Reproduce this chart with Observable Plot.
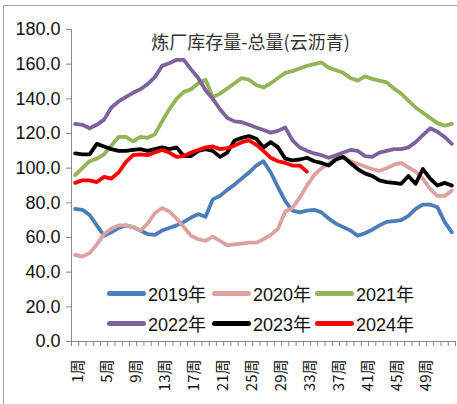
<!DOCTYPE html>
<html>
<head>
<meta charset="utf-8">
<script src="https://cdn.jsdelivr.net/npm/d3@7"></script>
<script src="https://cdn.jsdelivr.net/npm/@observablehq/plot@0.6"></script>
<style>
  html, body { margin: 0; padding: 0; background: #fff; }
  #wrap { position: relative; width: 457px; height: 404px; overflow: hidden; background: #fff; }
  #border { position: absolute; left: 3px; top: 5px; width: 460px; height: 420px; border: 1px solid #a0a0a0; box-sizing: border-box; pointer-events: none; }
  .leg { position: absolute; display: flex; align-items: center; font-family: "Liberation Sans", "Noto Sans CJK SC", sans-serif; font-size: 18px; color: #111; white-space: nowrap; }
  .sw { width: 39px; height: 5px; border-radius: 3px; margin-right: 2px; }
</style>
</head>
<body>
<div id="wrap"><div id="border"></div></div>
<script>
const title = "炼厂库存量-总量(云沥青)";
const weeks = [1,2,3,4,5,6,7,8,9,10,11,12,13,14,15,16,17,18,19,20,21,22,23,24,25,26,27,28,29,30,31,32,33,34,35,36,37,38,39,40,41,42,43,44,45,46,47,48,49,50,51,52,53];
const xTickWeeks = [1,5,9,13,17,21,25,29,33,37,41,45,49];
const xTickLabels = ["1周","5周","9周","13周","17周","21周","25周","29周","33周","37周","41周","45周","49周"];
const yTicks = [0,20,40,60,80,100,120,140,160,180];
const seriesNames = ["2019年","2020年","2021年","2022年","2023年","2024年"];
const seriesColors = ["#4a7ebb","#dca2a0","#93b557","#7e62a0","#000000","#ff0000"];

const s2019 = [76.5,76,73,67,61,63,65.5,67,66,64,62,61.5,64,65.5,67,69,71.5,73.5,72,82,84,87.5,90.5,94,97.5,101.5,104,97.5,89,81,75.5,74.5,75.5,76,74.5,71,68,66,64,61,62.5,64.5,67,69,69.5,70,72.5,76.5,79,79,77.5,69,63];
const s2020 = [50,49,51,56,62,65,67,67,66,64,68,74,77,75,71,66,61,59,58,60.5,58,55.5,56,56.5,57,57,59,61.5,65,75,77,83,90,96,100,102.5,106,106.5,104,102.5,101,99.5,98.5,100,102,103,100.5,98,94,88,84,84,87];
const s2021 = [96,100,104,105.5,108,113,118,118,115.5,118,117.5,119.5,127,134,140,144,145.5,149,151,141,143,146,149,152,151,148,146.5,149,152,155,156,157.5,159,160,161,158,156.5,155,152,150.5,153,151.5,150.5,149.5,146,143,139,135,132,129,126,124.5,125.5];
const s2022 = [125.5,125,123,125,128,135,138.5,141,143.5,145.5,148.5,152.5,159,160.5,162.5,162.5,157,152,145,140,134,129,127,126.5,125,123.5,122,120.5,121.5,123.5,116,112,110,108.5,107.5,106,107.5,109,110.5,110,107,106.5,109,110,111,111,112,115,119,123,121,118,114];
const s2023 = [108.5,108,108,114,112.5,111,110,110,110.5,111,110,111,112,111,112,107,107,110,111,110,106.5,109,116,117.5,118.5,117,112,115,112,105.5,104.5,105,106,104,103,101.5,105,106.5,103,99.5,97,95.5,93,92,91.5,91,95.5,91,99.5,94,90,91.5,90];
const s2024 = [91.5,93,93,92,95,94,97.5,103.5,107.5,108,107.5,109,110.5,109,106.5,107,109,110.5,112,112.5,111,111.5,113,115,116,113.5,110,106,104,103,101.5,101.5,98];

const allSeries = [s2019, s2020, s2021, s2022, s2023, s2024];
const rows = allSeries.flatMap((vals, i) =>
  vals.map((v, j) => ({week: weeks[j], value: v, series: seriesNames[i]})));
const boundaries = weeks.map(w => w - 0.5).concat([weeks[weeks.length - 1] + 0.5]);

const numFont = '"Liberation Sans", sans-serif';

const chart = Plot.plot({
  width: 457,
  height: 404,
  marginLeft: 71,
  marginRight: 2,
  marginTop: 29,
  marginBottom: 63,
  style: {background: "transparent", fontFamily: numFont, color: "#111"},
  x: {type: "linear", domain: [0.5, 53.5]},
  y: {domain: [0, 180]},
  color: {domain: seriesNames, range: seriesColors},
  marks: [
    Plot.axisY({ticks: yTicks, tickFormat: d => d.toFixed(1), tickSize: 5, tickPadding: 6, fontSize: 18, stroke: "#888", fill: "#111", label: null}),
    Plot.axisX({ticks: boundaries, tickSize: 5, tickFormat: () => "", stroke: "#888", label: null}),
    Plot.axisX({ticks: xTickWeeks, tickSize: 0, tickPadding: 18, tickRotate: -90, dx: 3,
      tickFormat: d => xTickLabels[xTickWeeks.indexOf(d)], fontSize: 15, fill: "#111", label: null,
      fontFamily: '"Noto Sans CJK SC", sans-serif'}),
    Plot.ruleY([0], {stroke: "#888"}),
    Plot.ruleX([0.5], {stroke: "#888"}),
    Plot.lineY(rows, {x: "week", y: "value", stroke: "series", z: "series", strokeWidth: 3.8, strokeLinejoin: "round", strokeLinecap: "round"}),
    Plot.text([title], {frameAnchor: "top", lineAnchor: "middle", dx: -13, dy: 14, fontSize: 18,
      fontFamily: '"Noto Sans CJK SC", sans-serif', fill: "#333"})
  ]
});

const wrap = document.getElementById("wrap");
chart.style.position = "absolute";
chart.style.left = "0px";
chart.style.top = "0px";
wrap.insertBefore(chart, wrap.firstChild);

const legX = [107, 212, 315];
const legY = [293, 323];
seriesNames.forEach((name, i) => {
  const item = document.createElement("div");
  item.className = "leg";
  item.style.left = legX[i % 3] + "px";
  item.style.top = (legY[Math.floor(i / 3)] - 12) + "px";
  item.style.height = "24px";
  const sw = document.createElement("div");
  sw.className = "sw";
  sw.style.background = seriesColors[i];
  const tx = document.createElement("span");
  tx.textContent = name;
  item.appendChild(sw);
  item.appendChild(tx);
  wrap.appendChild(item);
});
</script>
</body>
</html>
